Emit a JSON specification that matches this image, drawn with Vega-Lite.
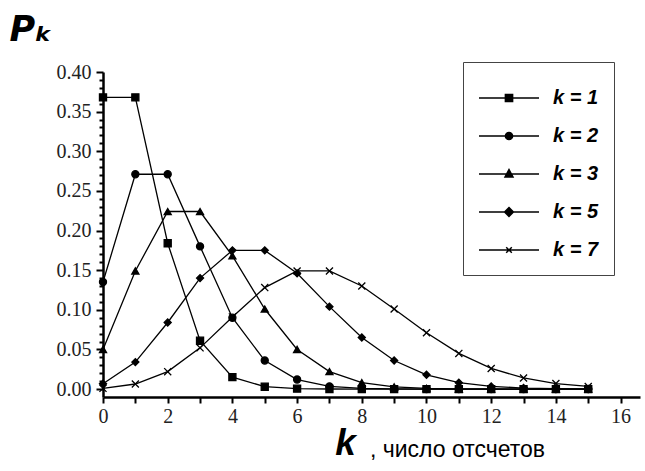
{
  "$schema": "https://vega.github.io/schema/vega-lite/v6.json",
  "width": 537,
  "height": 325,
  "autosize": "none",
  "padding": {"left": 103, "top": 72, "right": 5, "bottom": 74},
  "background": "white",
  "config": {
    "view": {"stroke": null}
  },
  "title": {
    "text": ", число отсчетов",
    "orient": "bottom",
    "anchor": "start",
    "frame": "group",
    "dx": 267,
    "offset": -22,
    "font": "Liberation Sans",
    "fontSize": 23,
    "fontWeight": "normal",
    "color": "black"
  },
  "data": {"values": [
    {"n":0,"k":"k = 1","p":0.368},{"n":1,"k":"k = 1","p":0.368},{"n":2,"k":"k = 1","p":0.184},{"n":3,"k":"k = 1","p":0.061},{"n":4,"k":"k = 1","p":0.015},{"n":5,"k":"k = 1","p":0.003},{"n":6,"k":"k = 1","p":0.0005},{"n":7,"k":"k = 1","p":0.0001},{"n":8,"k":"k = 1","p":0},{"n":9,"k":"k = 1","p":0},{"n":10,"k":"k = 1","p":0},{"n":11,"k":"k = 1","p":0},{"n":12,"k":"k = 1","p":0},{"n":13,"k":"k = 1","p":0},{"n":14,"k":"k = 1","p":0},{"n":15,"k":"k = 1","p":0},
    {"n":0,"k":"k = 2","p":0.135},{"n":1,"k":"k = 2","p":0.271},{"n":2,"k":"k = 2","p":0.271},{"n":3,"k":"k = 2","p":0.180},{"n":4,"k":"k = 2","p":0.090},{"n":5,"k":"k = 2","p":0.036},{"n":6,"k":"k = 2","p":0.012},{"n":7,"k":"k = 2","p":0.0034},{"n":8,"k":"k = 2","p":0.0009},{"n":9,"k":"k = 2","p":0.0002},{"n":10,"k":"k = 2","p":0},{"n":11,"k":"k = 2","p":0},{"n":12,"k":"k = 2","p":0},{"n":13,"k":"k = 2","p":0},{"n":14,"k":"k = 2","p":0},{"n":15,"k":"k = 2","p":0},
    {"n":0,"k":"k = 3","p":0.050},{"n":1,"k":"k = 3","p":0.149},{"n":2,"k":"k = 3","p":0.224},{"n":3,"k":"k = 3","p":0.224},{"n":4,"k":"k = 3","p":0.168},{"n":5,"k":"k = 3","p":0.101},{"n":6,"k":"k = 3","p":0.050},{"n":7,"k":"k = 3","p":0.022},{"n":8,"k":"k = 3","p":0.008},{"n":9,"k":"k = 3","p":0.0027},{"n":10,"k":"k = 3","p":0.0008},{"n":11,"k":"k = 3","p":0.0002},{"n":12,"k":"k = 3","p":0.0001},{"n":13,"k":"k = 3","p":0},{"n":14,"k":"k = 3","p":0},{"n":15,"k":"k = 3","p":0},
    {"n":0,"k":"k = 5","p":0.0067},{"n":1,"k":"k = 5","p":0.034},{"n":2,"k":"k = 5","p":0.084},{"n":3,"k":"k = 5","p":0.140},{"n":4,"k":"k = 5","p":0.175},{"n":5,"k":"k = 5","p":0.175},{"n":6,"k":"k = 5","p":0.146},{"n":7,"k":"k = 5","p":0.104},{"n":8,"k":"k = 5","p":0.065},{"n":9,"k":"k = 5","p":0.036},{"n":10,"k":"k = 5","p":0.018},{"n":11,"k":"k = 5","p":0.008},{"n":12,"k":"k = 5","p":0.0034},{"n":13,"k":"k = 5","p":0.0013},{"n":14,"k":"k = 5","p":0.0005},{"n":15,"k":"k = 5","p":0.0002},
    {"n":0,"k":"k = 7","p":0.0009},{"n":1,"k":"k = 7","p":0.0064},{"n":2,"k":"k = 7","p":0.022},{"n":3,"k":"k = 7","p":0.052},{"n":4,"k":"k = 7","p":0.091},{"n":5,"k":"k = 7","p":0.128},{"n":6,"k":"k = 7","p":0.149},{"n":7,"k":"k = 7","p":0.149},{"n":8,"k":"k = 7","p":0.130},{"n":9,"k":"k = 7","p":0.101},{"n":10,"k":"k = 7","p":0.071},{"n":11,"k":"k = 7","p":0.045},{"n":12,"k":"k = 7","p":0.026},{"n":13,"k":"k = 7","p":0.014},{"n":14,"k":"k = 7","p":0.007},{"n":15,"k":"k = 7","p":0.0033}
  ]},
  "encoding": {
    "x": {
      "field": "n", "type": "quantitative",
      "scale": {"domain": [0, 16.6], "nice": false, "zero": false},
      "axis": {
        "grid": false,
        "values": [0,1,2,3,4,5,6,7,8,9,10,11,12,13,14,15,16],
        "labelExpr": "datum.value % 2 == 0 ? datum.label : ''",
        "labelFont": "'Liberation Serif', 'Times New Roman', serif", "labelFontSize": 20, "labelColor": "#222",
        "domainColor": "black", "domainWidth": 2.5,
        "ticks": true, "tickColor": "black", "tickWidth": 2, "tickSize": 6, "labelPadding": 3, "labelFlush": false,
        "title": "k",
        "titleFont": "Liberation Sans", "titleFontSize": 37, "titleFontWeight": "bold", "titleFontStyle": "italic", "titleColor": "black",
        "titleAngle": 0, "titleAlign": "center", "titleBaseline": "alphabetic", "titleX": 242, "titleY": 57
      }
    },
    "y": {
      "field": "p", "type": "quantitative",
      "scale": {"domain": [-0.01, 0.40], "nice": false, "zero": false},
      "axis": {
        "grid": false,
        "values": [0,0.01,0.02,0.03,0.04,0.05,0.06,0.07,0.08,0.09,0.10,0.11,0.12,0.13,0.14,0.15,0.16,0.17,0.18,0.19,0.20,0.21,0.22,0.23,0.24,0.25,0.26,0.27,0.28,0.29,0.30,0.31,0.32,0.33,0.34,0.35,0.36,0.37,0.38,0.39,0.40],
        "format": ".2f",
        "labelExpr": "round(datum.value*100) % 5 == 0 ? datum.label : ''",
        "labelFont": "'Liberation Serif', 'Times New Roman', serif", "labelFontSize": 20, "labelColor": "#222",
        "domainColor": "black", "domainWidth": 2.5,
        "ticks": true, "tickColor": "black", "tickWidth": 2,
        "tickSize": {"condition": {"test": "round(datum.value*100) % 5 == 0", "value": 7}, "value": 4},
        "labelPadding": 5,
        "title": "Pₖ",
        "titleFont": "DejaVu Sans", "titleFontSize": 35, "titleFontWeight": "bold", "titleFontStyle": "italic", "titleColor": "black",
        "titleAngle": 0, "titleAlign": "left", "titleBaseline": "alphabetic", "titleX": -94, "titleY": -32
      }
    }
  },
  "layer": [
    {
      "mark": {"type": "line", "color": "black", "strokeWidth": 1.3},
      "encoding": {"detail": {"field": "k"}}
    },
    {
      "mark": {"type": "point", "filled": true, "fill": "black", "stroke": "black", "strokeWidth": 1.3, "opacity": 1, "size": 50},
      "encoding": {
        "shape": {
          "field": "k", "type": "nominal",
          "scale": {"domain": ["k = 1","k = 2","k = 3","k = 5","k = 7"], "range": ["square","circle","triangle-up","diamond","M-1,-1L1,1M-1,1L1,-1"]},
          "legend": null
        }
      }
    },
    {
      "mark": {"type": "point", "filled": true, "fill": "black", "stroke": "black", "strokeWidth": 1, "size": 45},
      "encoding": {
        "opacity": {"value": 0},
        "shape": {
          "field": "k", "type": "nominal",
          "scale": {"domain": ["k = 1","k = 2","k = 3","k = 5","k = 7"], "range": [
            "M-1,0H2M0.32,-0.18H0.68V0.18H0.32Z",
            "M-1,0H2M0.68,0A0.18,0.18,0,1,1,0.32,0A0.18,0.18,0,1,1,0.68,0Z",
            "M-1,0H2M0.5,-0.22L0.7,0.15L0.3,0.15Z",
            "M-1,0H2M0.5,-0.22L0.72,0L0.5,0.22L0.28,0Z",
            "M-1,0H2M0.36,-0.14L0.64,0.14M0.36,0.14L0.64,-0.14"
          ]},
          "legend": {
            "title": null,
            "orient": "none", "legendX": 360, "legendY": -10,
            "strokeColor": "#444", "fillColor": "white",
            "padding": 15,
            "symbolSize": 1600,
            "labelFont": "Liberation Sans", "labelFontSize": 20, "labelFontWeight": "bold", "labelFontStyle": "italic", "labelColor": "black",
            "labelOffset": 33, "rowPadding": 7,
            "encode": {
              "symbols": {"update": {"opacity": {"value": 1}, "size": {"value": 1600}, "stroke": {"value": "black"}, "strokeWidth": {"value": 1.2}, "fill": {"value": "black"}}},
              "legend": {"update": {"strokeWidth": {"value": 1.5}}}
            }
          }
        }
      }
    }
  ],
  "resolve": {"scale": {"shape": "independent"}, "legend": {"shape": "independent"}}
}
